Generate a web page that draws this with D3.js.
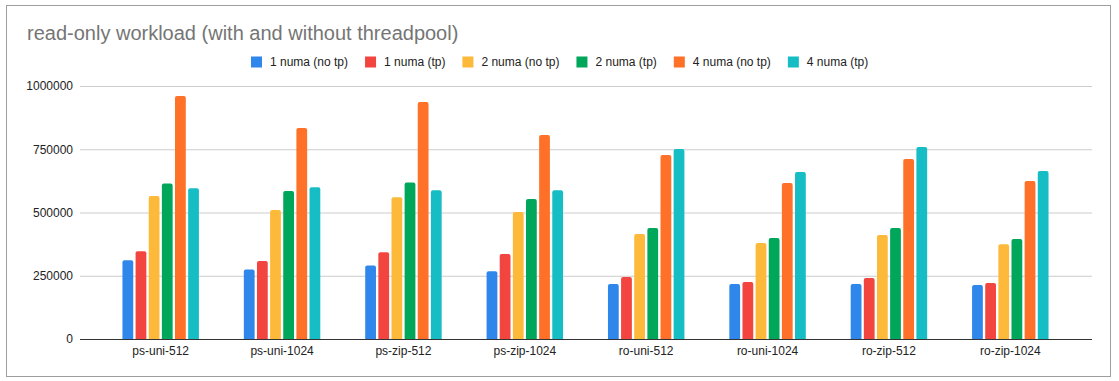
<!DOCTYPE html>
<html>
<head>
<meta charset="utf-8">
<script src="https://cdn.jsdelivr.net/npm/d3@7"></script>
<style>
  body { margin: 0; background: #fff; }
  text { font-family: Arial, "Liberation Sans", sans-serif; }
</style>
</head>
<body>
<div id="chart"></div>
<script>
// chart data
var categories = ["ps-uni-512", "ps-uni-1024", "ps-zip-512", "ps-zip-1024",
                  "ro-uni-512", "ro-uni-1024", "ro-zip-512", "ro-zip-1024"];
var seriesNames = ["1 numa (no tp)", "1 numa (tp)", "2 numa (no tp)", "2 numa (tp)", "4 numa (no tp)", "4 numa (tp)"];
var numa1NoTp = [311000, 275000, 291000, 268000, 217000, 217000, 217000, 213000];
var numa1Tp   = [347000, 308000, 343000, 336000, 245000, 225000, 241000, 221000];
var numa2NoTp = [565000, 510000, 560000, 502000, 415000, 379000, 411000, 375000];
var numa2Tp   = [615000, 585000, 619000, 553000, 439000, 399000, 439000, 395000];
var numa4NoTp = [960000, 834000, 937000, 806000, 727000, 617000, 711000, 625000];
var numa4Tp   = [596000, 600000, 588000, 588000, 751000, 660000, 759000, 664000];
var yTicks = [0, 250000, 500000, 750000, 1000000];
var colors = ["#2f86eb", "#f3453f", "#fdb93a", "#00a659", "#ff7028", "#17bdc5"];

var seriesValues = [numa1NoTp, numa1Tp, numa2NoTp, numa2Tp, numa4NoTp, numa4Tp];

var W = 1119, H = 381;
var plot = { left: 80, right: 1092, top: 86, bottom: 339 };

var svg = d3.select("#chart").append("svg")
    .attr("width", W)
    .attr("height", H);

svg.append("rect")
    .attr("x", 0).attr("y", 0).attr("width", W).attr("height", H)
    .attr("fill", "#fff");

// outer frame
svg.append("rect")
    .attr("x", 6.5).attr("y", 5.5)
    .attr("width", 1104).attr("height", 371)
    .attr("fill", "none")
    .attr("stroke", "#9e9e9e");

svg.append("text")
    .attr("x", 27).attr("y", 40)
    .attr("font-size", 20)
    .attr("fill", "#757575")
    .text("read-only workload (with and without threadpool)");

var y = d3.scaleLinear().domain([0, 1000000]).range([plot.bottom, plot.top]);
var x0 = d3.scaleBand().domain(categories).range([100, 1071])
    .paddingInner(0.37).paddingOuter(0.185);
var x1 = d3.scaleBand().domain(d3.range(seriesNames.length)).range([0, x0.bandwidth()])
    .paddingInner(0.18);

// gridlines + y labels
var yAxis = svg.append("g")
    .attr("transform", "translate(" + plot.left + ",0)")
    .call(d3.axisLeft(y).tickValues(yTicks).tickSize(-(plot.right - plot.left)).tickPadding(7).tickFormat(d3.format("d")));
yAxis.select(".domain").remove();
yAxis.selectAll(".tick line").attr("stroke", "#cccccc");
yAxis.selectAll(".tick text")
    .attr("font-size", 12)
    .attr("fill", "#222")
    .attr("font-family", "Arial, 'Liberation Sans', sans-serif");

// bars, rounded at the top
function barPath(bx, by, bw, bh) {
    var r = Math.min(2, bh);
    return "M" + bx + "," + (by + bh) +
        "V" + (by + r) +
        "Q" + bx + "," + by + " " + (bx + r) + "," + by +
        "H" + (bx + bw - r) +
        "Q" + (bx + bw) + "," + by + " " + (bx + bw) + "," + (by + r) +
        "V" + (by + bh) + "Z";
}

var groups = svg.append("g").selectAll("g")
    .data(categories)
    .join("g")
    .attr("transform", function(d) { return "translate(" + x0(d) + ",0)"; });

groups.selectAll("path")
    .data(function(d, i) { return seriesValues.map(function(s, k) { return { k: k, v: s[i] }; }); })
    .join("path")
    .attr("fill", function(d) { return colors[d.k]; })
    .attr("d", function(d) {
        return barPath(x1(d.k), y(d.v), x1.bandwidth(), plot.bottom - y(d.v));
    });

// baseline + category labels
var xAxis = svg.append("g")
    .attr("transform", "translate(0," + plot.bottom + ")")
    .call(d3.axisBottom(x0).tickSize(0).tickPadding(7));
xAxis.select(".domain").remove();
xAxis.selectAll(".tick text")
    .attr("font-size", 12)
    .attr("fill", "#222")
    .attr("font-family", "Arial, 'Liberation Sans', sans-serif");
svg.append("line")
    .attr("x1", plot.left).attr("x2", plot.right)
    .attr("y1", plot.bottom + 0.5).attr("y2", plot.bottom + 0.5)
    .attr("stroke", "#333");

// legend, centred over the chart
var legend = svg.append("g");
var items = legend.selectAll("g")
    .data(seriesNames)
    .join("g");
items.append("rect")
    .attr("width", 11).attr("height", 11)
    .attr("y", -5.5)
    .attr("fill", function(d, i) { return colors[i]; });
items.append("text")
    .attr("x", 19)
    .attr("dy", "0.35em")
    .attr("font-size", 12)
    .attr("fill", "#222")
    .text(function(d) { return d; });

var gap = 17;
var offset = 0;
items.each(function() {
    var g = d3.select(this);
    g.attr("transform", "translate(" + offset + ",0)");
    offset += 19 + g.select("text").node().getComputedTextLength() + gap;
});
offset -= gap;
legend.attr("transform", "translate(" + Math.round(560 - offset / 2) + ",62)");
</script>
</body>
</html>
